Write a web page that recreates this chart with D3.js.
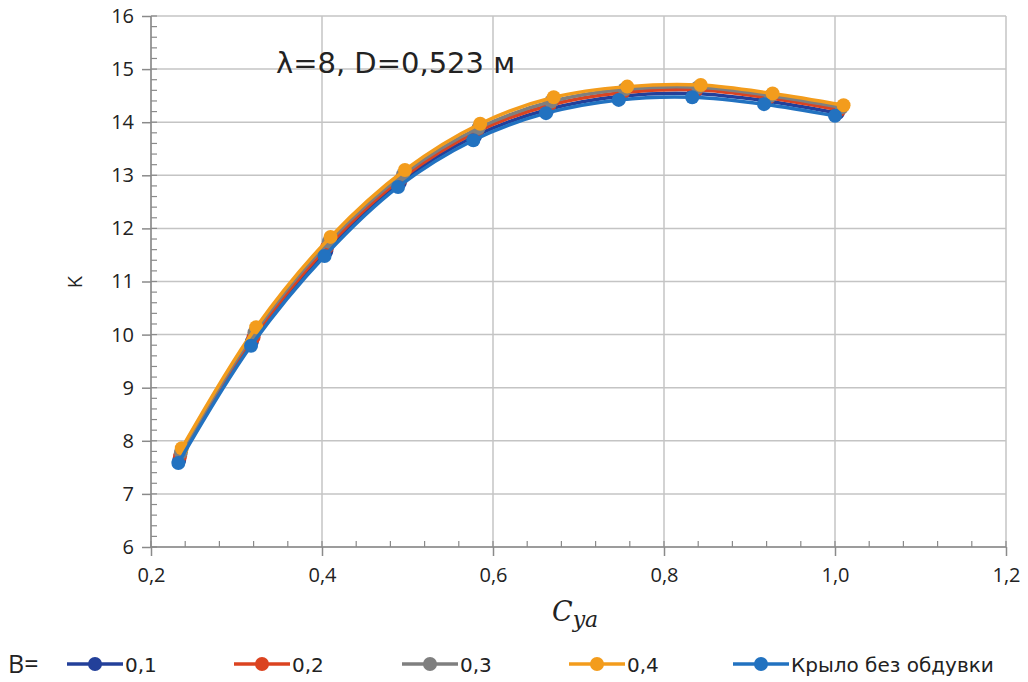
<!DOCTYPE html>
<html>
<head>
<meta charset="utf-8">
<script src="https://cdn.jsdelivr.net/npm/d3@7"></script>
<style>
  body { margin: 0; background: #fff; }
  text { font-family: "Open Sans", "Noto Sans", sans-serif; fill: #222; }
</style>
</head>
<body>
<svg id="svg"></svg>
<script>
// значения
var seriesNames = ["0,1", "0,2", "0,3", "0,4", "Крыло без обдувки"];
var seriesColors = ["#23409a", "#db4320", "#7f7f7f", "#f39c1c", "#2272c0"];

var cya_01 = [0.233, 0.318, 0.405, 0.491, 0.579, 0.664, 0.749, 0.835, 0.920, 1.003];
var k_01   = [7.64, 9.87, 11.57, 12.86, 13.74, 14.24, 14.49, 14.54, 14.40, 14.17];
var cya_02 = [0.234, 0.320, 0.406, 0.493, 0.581, 0.666, 0.752, 0.838, 0.922, 1.005];
var k_02   = [7.71, 9.95, 11.65, 12.94, 13.82, 14.32, 14.56, 14.61, 14.46, 14.23];
var cya_03 = [0.235, 0.321, 0.408, 0.495, 0.583, 0.668, 0.754, 0.840, 0.925, 1.008];
var k_03   = [7.78, 10.04, 11.75, 13.02, 13.89, 14.39, 14.62, 14.66, 14.50, 14.28];
var cya_04 = [0.236, 0.323, 0.410, 0.497, 0.585, 0.671, 0.757, 0.843, 0.927, 1.010];
var k_04   = [7.86, 10.14, 11.84, 13.10, 13.97, 14.47, 14.67, 14.70, 14.54, 14.32];
var cya_0  = [0.232, 0.317, 0.403, 0.489, 0.577, 0.662, 0.747, 0.833, 0.917, 1.000];
var k_0    = [7.58, 9.79, 11.48, 12.78, 13.66, 14.17, 14.42, 14.47, 14.34, 14.12];

var xTicks = [0.2, 0.4, 0.6, 0.8, 1.0, 1.2];
var yTicks = [6, 7, 8, 9, 10, 11, 12, 13, 14, 15, 16];

var W = 1028, H = 682;
var margin = {left: 151, top: 16, right: 22, bottom: 135};
var width = W - margin.left - margin.right;
var height = H - margin.top - margin.bottom;

var svg = d3.select("#svg").attr("width", W).attr("height", H);

var xScale = d3.scaleLinear().domain([0.2, 1.2]).range([0, width]);
var yScale = d3.scaleLinear().domain([6, 16]).range([height, 0]);

var g = svg.append("g").attr("transform", `translate(${margin.left}, ${margin.top})`);

// сетка
g.append("g").selectAll("line").data(yTicks).join("line")
	.attr("x1", 0).attr("x2", width)
	.attr("y1", d => yScale(d)).attr("y2", d => yScale(d))
	.attr("stroke", "#c4c4c4").attr("stroke-width", 1.5);
g.append("g").selectAll("line").data(xTicks).join("line")
	.attr("x1", d => xScale(d)).attr("x2", d => xScale(d))
	.attr("y1", 0).attr("y2", height)
	.attr("stroke", "#c4c4c4").attr("stroke-width", 1.5);

// малые деления
var xMinor = d3.range(0.2, 1.2001, 0.04).map(d => +d.toFixed(2));
var yMinor = d3.range(6, 16.001, 0.2).map(d => +d.toFixed(1));
g.append("g").selectAll("line").data(xMinor).join("line")
	.attr("x1", d => xScale(d)).attr("x2", d => xScale(d))
	.attr("y1", height).attr("y2", height - 6)
	.attr("stroke", "#8a8a8a").attr("stroke-width", 1.2);
g.append("g").selectAll("line").data(yMinor).join("line")
	.attr("x1", 0).attr("x2", 6)
	.attr("y1", d => yScale(d)).attr("y2", d => yScale(d))
	.attr("stroke", "#8a8a8a").attr("stroke-width", 1.2);

// оси
var xAxis = g.append("g").attr("transform", `translate(0, ${height})`)
	.call(d3.axisBottom(xScale).tickValues(xTicks).tickSize(9).tickPadding(12)
		.tickFormat(d => d3.format(".1f")(d).replace(".", ",")));
var yAxis = g.append("g")
	.call(d3.axisLeft(yScale).tickValues(yTicks).tickSize(9).tickPadding(8)
		.tickFormat(d => d));
[xAxis, yAxis].forEach(a => {
	a.select(".domain").attr("stroke", "#8a8a8a").attr("stroke-width", 1.5);
	a.selectAll(".tick line").attr("stroke", "#8a8a8a").attr("stroke-width", 1.5);
	a.selectAll("text").style("font-size", "20px").attr("fill", "#222");
});
xAxis.select(".domain").attr("d", `M0,0H${width}`);
yAxis.select(".domain").attr("d", `M0,0V${height}`);

// серии
var seriesX = [cya_01, cya_02, cya_03, cya_04, cya_0];
var seriesY = [k_01, k_02, k_03, k_04, k_0];
var line = d3.line()
	.x(d => xScale(d[0]))
	.y(d => yScale(d[1]))
	.curve(d3.curveCatmullRom.alpha(0.5));

seriesX.forEach((xs, i) => {
	var pts = xs.map((x, j) => [x, seriesY[i][j]]);
	g.append("path").datum(pts)
		.attr("fill", "none")
		.attr("stroke", seriesColors[i])
		.attr("stroke-width", 3.5)
		.attr("stroke-linejoin", "round")
		.attr("stroke-linecap", "round")
		.attr("d", line);
	g.append("g").selectAll("circle").data(pts).join("circle")
		.attr("cx", d => xScale(d[0]))
		.attr("cy", d => yScale(d[1]))
		.attr("r", 7)
		.attr("fill", seriesColors[i]);
});

// подписи
svg.append("text")
	.attr("x", 276).attr("y", 73)
	.style("font-family", "'DejaVu Sans', sans-serif")
	.style("font-size", "29px")
	.text("λ=8, D=0,523 м");

svg.append("text")
	.attr("transform", "translate(82, 282) rotate(-90)")
	.attr("text-anchor", "middle")
	.style("font-size", "20px")
	.text("K");

var xt = svg.append("text")
	.attr("x", 552).attr("y", 621)
	.style("font-family", "'DejaVu Serif', 'Liberation Serif', serif")
	.style("font-style", "italic")
	.style("font-size", "27px");
xt.append("tspan").text("C");
xt.append("tspan").attr("dy", 6).style("font-size", "22px").text("ya");

// легенда
var legendX = [67, 234, 402, 569, 733];
svg.append("text")
	.attr("x", 8).attr("y", 673)
	.style("font-size", "25px")
	.text("B=");
var leg = svg.append("g").selectAll("g").data(seriesNames).join("g")
	.attr("transform", (d, i) => `translate(${legendX[i]}, 664)`);
leg.append("line")
	.attr("x1", 0).attr("x2", 56)
	.attr("stroke", (d, i) => seriesColors[i])
	.attr("stroke-width", 3.5);
leg.append("circle")
	.attr("cx", 28).attr("r", 7)
	.attr("fill", (d, i) => seriesColors[i]);
leg.append("text")
	.attr("x", 58).attr("y", 8)
	.style("font-family", "'DejaVu Sans', sans-serif")
	.style("font-size", "20px")
	.text(d => d);
</script>
</body>
</html>
